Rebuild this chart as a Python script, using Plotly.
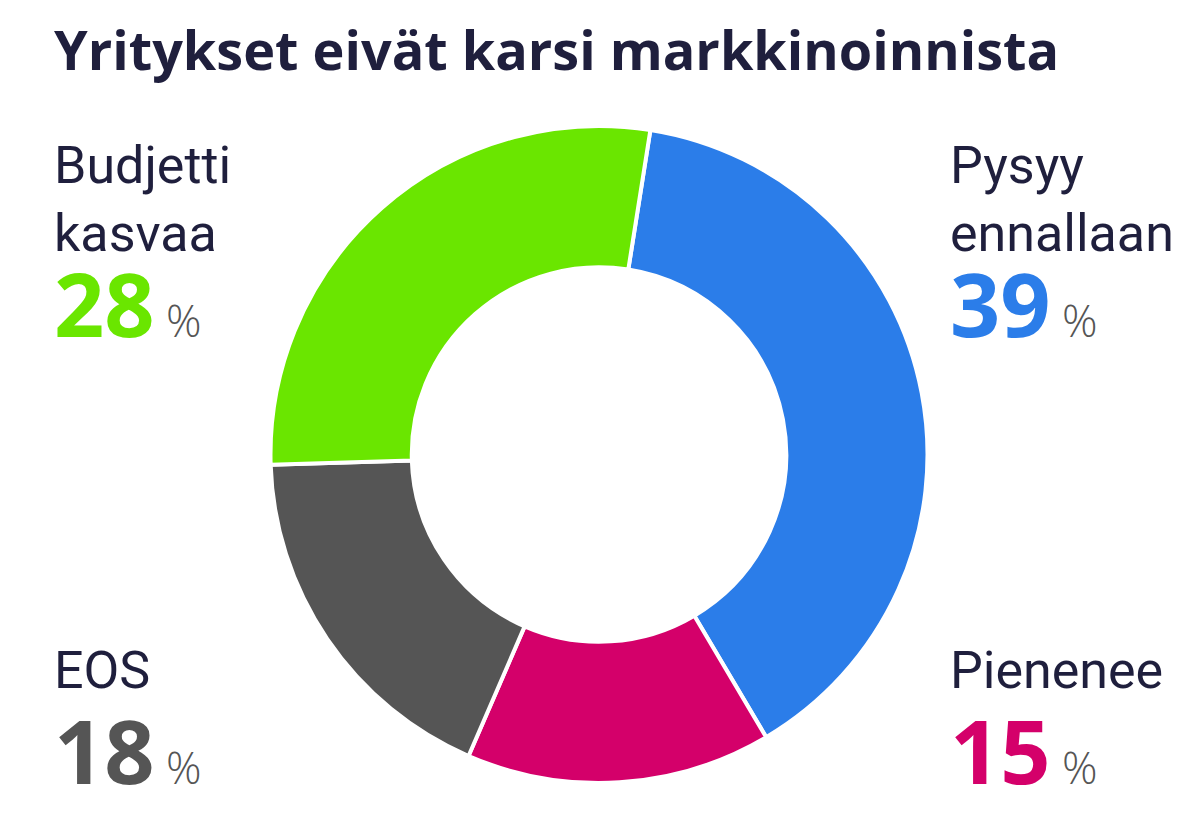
import plotly.graph_objects as go

labels = ["Pysyy ennallaan", "Pienenee", "EOS", "Budjetti kasvaa"]
values = [39, 15, 18, 28]
colors = ["#2b7de9", "#d4006a", "#555555", "#6ae600"]
label_texts = ["Pysyy<br>ennallaan", "Pienenee", "EOS", "Budjetti<br>kasvaa"]

W, H = 1198, 813
ink = "#1f1f3d"

fig = go.Figure(go.Pie(
    labels=labels, values=values, hole=0.57, sort=False,
    direction="clockwise", rotation=9,
    marker=dict(colors=colors, line=dict(color="white", width=4)),
    textinfo="none", hoverinfo="label+percent",
    domain=dict(x=[(591 - 330) / W, (591 + 330) / W], y=[1 - 775 / H, 1 - 118 / H]),
))

# label positions (x px, top of label y px, number centre y px)
spots = [(940, 125, 295), (940, 630, 742), (44, 630, 742), (44, 125, 295)]
anns = [dict(text="<b>Yritykset eivät karsi markkinoinnista</b>", x=44 / W, y=1 - 2 / H,
             xref="paper", yref="paper", xanchor="left", yanchor="top", showarrow=False,
             font=dict(family="Open Sans", size=54, color=ink, weight=800))]
for (x, ly, ny), t, v, c in zip(spots, label_texts, values, colors):
    anns.append(dict(text=t, x=x / W, y=1 - ly / H, xref="paper", yref="paper",
                     xanchor="left", yanchor="top", showarrow=False, align="left",
                     font=dict(family="Roboto", size=52, color=ink)))
    anns.append(dict(text=f"<b>{v}</b><span style='font-size:44px;font-weight:300;color:#555555'> %</span>",
                     x=x / W, y=1 - ny / H, xref="paper", yref="paper",
                     xanchor="left", yanchor="middle", showarrow=False,
                     font=dict(family="Open Sans", size=88, color=c, weight=800)))

fig.update_layout(
    width=W, height=H, margin=dict(l=0, r=0, t=0, b=0),
    paper_bgcolor="white", showlegend=False, annotations=anns,
)
fig.write_html("out.html")
